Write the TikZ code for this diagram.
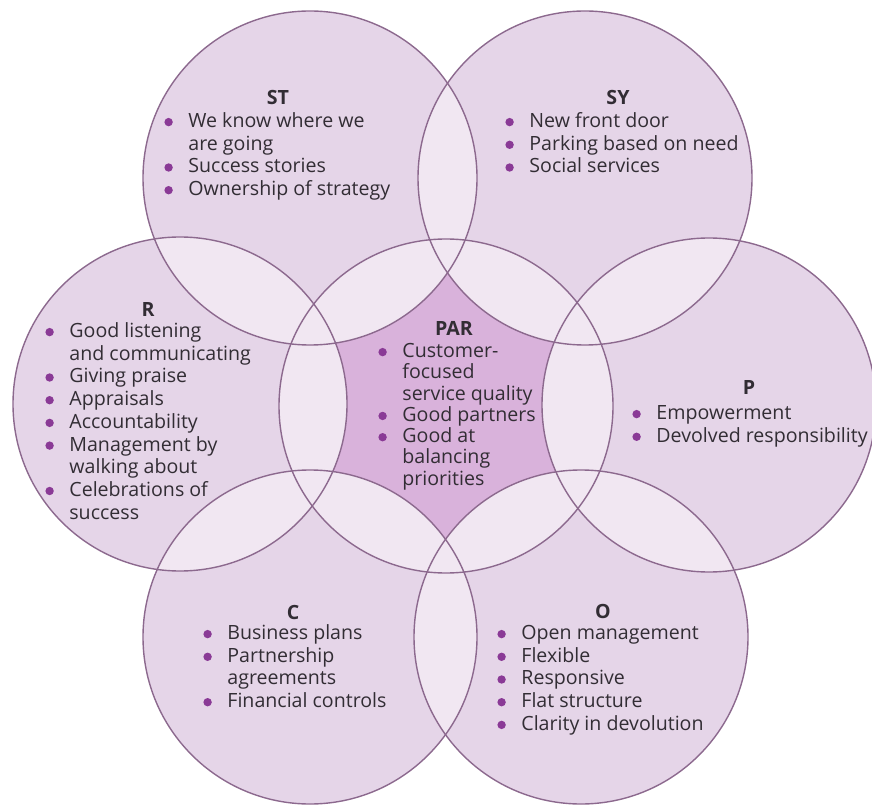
\documentclass[tikz,border=0pt]{standalone}
\usepackage{fontspec}
\setmainfont{Open Sans}
\usepackage{tikz}
\usetikzlibrary{positioning}
\definecolor{ringfill}{RGB}{229,213,232}
\definecolor{lapfill}{RGB}{241,231,242}
\definecolor{corefill}{RGB}{217,178,219}
\definecolor{ringline}{RGB}{140,105,142}
\definecolor{bulcol}{RGB}{138,58,150}
\definecolor{txtcol}{RGB}{50,45,52}
\newcommand{\bl}{\hspace*{1pt}\tikz[baseline=0pt]\fill[bulcol] (0pt,2.7pt) circle (2.1pt);}
\newcommand{\lst}[1]{\begin{tabular}[t]{@{}p{13pt}@{}l@{}}#1\end{tabular}}

\begin{document}
\begin{tikzpicture}[x=0.5pt, y=-0.5pt,
    ttl/.style={font=\fontsize{9.8}{11.3}\selectfont\bfseries, text=txtcol, inner sep=0pt},
    items/.style={font=\fontsize{9.8}{11.35}\selectfont, text=txtcol, anchor=base west, inner sep=0pt},
    ring/.style={draw=ringline, line width=0.7pt}]
    \useasboundingbox (0,0) rectangle (872,807);
    \def\rad{83.5pt}

    % centres of the seven rings
    \coordinate (par) at (446,406);
    \coordinate (st) at (310,178);
    \coordinate (sy) at (585,178);
    \coordinate (p) at (709,405);
    \coordinate (o) at (581,637);
    \coordinate (c) at (310,637);
    \coordinate (r) at (180,404);

    % fills: core, rings, then overlaps
    \fill[corefill] (par) circle (\rad);
    \foreach \k in {st,sy,p,o,c,r}
        \fill[ringfill] (\k) circle (\rad);
    \foreach \a/\b in {st/sy,sy/p,p/o,o/c,c/r,r/st,par/st,par/sy,par/p,par/o,par/c,par/r}{
        \begin{scope}
            \clip (\a) circle (\rad);
            \fill[lapfill] (\b) circle (\rad);
        \end{scope}
    }
    \foreach \k in {par,st,sy,p,o,c,r}
        \draw[ring] (\k) circle (\rad);

    % titles
    \node[ttl] (st-t) at (278,98) {ST};
    \node[ttl] (sy-t) at (618,98) {SY};
    \node[ttl] (r-t) at (148,310) {R};
    \node[ttl] (par-t) at (454,328) {PAR};
    \node[ttl] (p-t) at (749,388) {P};
    \node[ttl] (c-t) at (293,612) {C};
    \node[ttl] (o-t) at (603,611) {O};

    % bullet lists
    \node[items] (st-l) at (162,127.5) {\lst{\bl & We know where we\\ & are going\\ \bl & Success stories\\ \bl & Ownership of strategy}};
    \node[items] (sy-l) at (503,127.5) {\lst{\bl & New front door\\ \bl & Parking based on need\\ \bl & Social services}};
    \node[items] (r-l) at (43,337.5) {\lst{\bl & Good listening\\ & and communicating\\ \bl & Giving praise\\ \bl & Appraisals\\ \bl & Accountability\\ \bl & Management by\\ & walking about\\ \bl & Celebrations of\\ & success}};
    \node[items, font=\fontsize{9.8}{10.6}\selectfont] (par-l) at (376,357.5) {\lst{\bl & Customer-\\ & focused\\ & service quality\\ \bl & Good partners\\ \bl & Good at\\ & balancing\\ & priorities}};
    \node[items] (p-l) at (630,419.5) {\lst{\bl & Empowerment\\ \bl & Devolved responsibility}};
    \node[items] (c-l) at (201,639.5) {\lst{\bl & Business plans\\ \bl & Partnership\\ & agreements\\ \bl & Financial controls}};
    \node[items] (o-l) at (495,639.5) {\lst{\bl & Open management\\ \bl & Flexible\\ \bl & Responsive\\ \bl & Flat structure\\ \bl & Clarity in devolution}};
\end{tikzpicture}
\end{document}
